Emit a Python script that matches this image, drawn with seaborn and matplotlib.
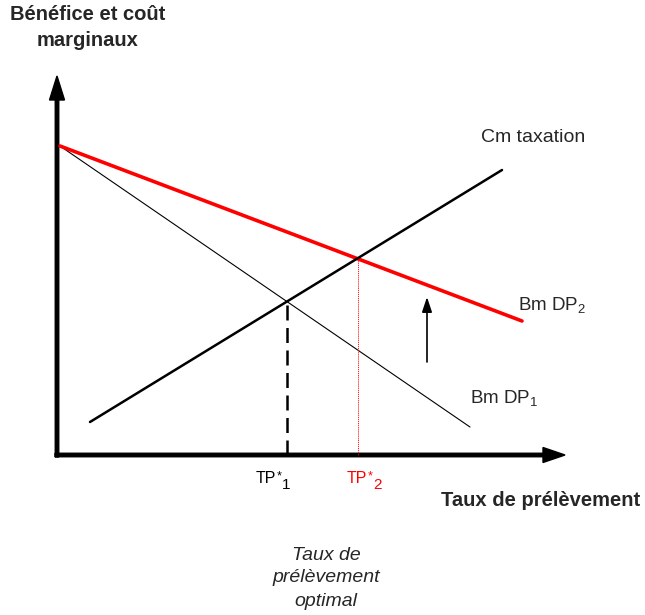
import numpy as np
import matplotlib
matplotlib.use("Agg")
import matplotlib.pyplot as plt
import seaborn as sns

# schematic curves, origin at the axes corner (units ~ pixels)
taux = [3, 413]
bm_dp1 = [309, 28]
taux_dp2 = [3, 465]
bm_dp2 = [309, 134]
taux_cm = [33, 445]
cm_taxation = [33, 285]

# optimal rates read from the crossings
tp1, tp1_y = 230, 154
tp2, tp2_y = 301, 196

sns.set_style("white")
plt.rcParams["font.family"] = ["Liberation Sans", "DejaVu Sans"]
plt.rcParams["mathtext.fontset"] = "custom"
plt.rcParams["mathtext.rm"] = "Liberation Sans"
plt.rcParams["mathtext.it"] = "Liberation Sans:italic"

fig = plt.figure(figsize=(6.45, 6.15), dpi=100)
ax = fig.add_axes([0, 0, 1, 1])
ax.set_xlim(-57, 588)
ax.set_ylim(-160, 455)
ax.axis("off")

sns.lineplot(x=taux, y=bm_dp1, ax=ax, color="black", lw=0.8)
sns.lineplot(x=taux_dp2, y=bm_dp2, ax=ax, color="#ff0000", lw=2.6)
sns.lineplot(x=taux_cm, y=cm_taxation, ax=ax, color="black", lw=1.8)

# guide lines to the x axis
ax.plot([tp1, tp1], [0, tp1_y], color="black", lw=1.8, ls=(0, (6, 3)))
ax.plot([tp2, tp2], [0, tp2_y], color="#ff0000", lw=0.6, ls=(0, (1.5, 1)))

# axes with arrow heads
ax.arrow(-2, 0, 510, 0, width=3.5, head_width=15, head_length=22,
         length_includes_head=True, fc="black", ec="black")
ax.arrow(0, -2, 0, 381, width=3.5, head_width=15, head_length=24,
         length_includes_head=True, fc="black", ec="black")

# shift arrow
ax.annotate("", xy=(370, 158), xytext=(370, 93),
            arrowprops=dict(arrowstyle="-|>,head_length=0.9,head_width=0.3",
                            color="black", lw=1.2, shrinkA=0, shrinkB=0))

ax.text(31, 440, "Bénéfice et coût", fontsize=14.5, fontweight="bold",
        ha="center", va="center")
ax.text(31, 415, "marginaux", fontsize=14.5, fontweight="bold",
        ha="center", va="center")
ax.text(476, 318, "Cm taxation", fontsize=14, ha="center", va="center")
ax.text(461, 150, r"Bm DP$_2$", fontsize=13.5, ha="left", va="center")
ax.text(413, 57, r"Bm DP$_1$", fontsize=13.5, ha="left", va="center")

# TP*1 and TP*2 labels: star raised small, index lowered
for xl, idx, col in [(199, "1", "black"), (290, "2", "#ff0000")]:
    ax.text(xl, -28, "TP", fontsize=11.5, ha="left", va="baseline", color=col)
    ax.text(xl + 21, -15, "*", fontsize=9, ha="left", va="top", color=col)
    ax.text(xl + 26, -34, idx, fontsize=11, ha="left", va="baseline", color=col)

ax.text(484, -45, "Taux de prélèvement", fontsize=14.5, fontweight="bold",
        ha="center", va="center")
for i, line in enumerate(["Taux de", "prélèvement", "optimal"]):
    ax.text(269, -100 - 23 * i, line, fontsize=14, style="italic",
            ha="center", va="center")

fig.savefig("out.png", dpi=100)
